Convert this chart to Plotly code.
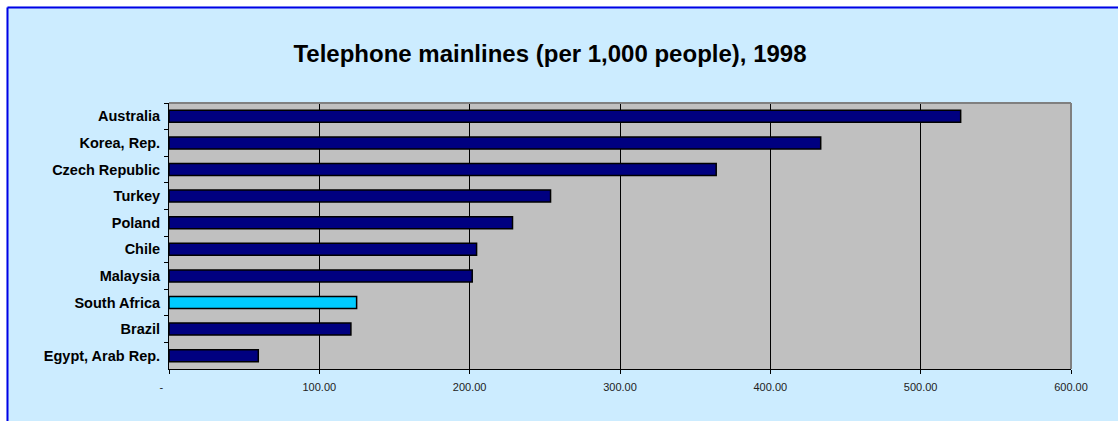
import plotly.graph_objects as go

countries = ["Australia", "Korea, Rep.", "Czech Republic", "Turkey", "Poland",
             "Chile", "Malaysia", "South Africa", "Brazil", "Egypt, Arab Rep."]
values = [526.6, 433.5, 364.0, 253.8, 228.5, 204.6, 201.7, 124.8, 121.0, 59.4]
bar_colors = ["#000080"] * 7 + ["#00CCFF"] + ["#000080"] * 2
tick_vals = [0, 100, 200, 300, 400, 500, 600]
tick_text = ["-" + "\u00a0" * 5, "100.00", "200.00", "300.00", "400.00", "500.00", "600.00"]
title_text = "Telephone mainlines (per 1,000 people), 1998"

W, H = 1118, 421
px0, px1 = 169, 1071
py0, py1 = 103, 369

fig = go.Figure(go.Bar(
    x=values, y=countries, orientation="h",
    marker=dict(color=bar_colors, line=dict(color="black", width=1.5)),
    hoverinfo="x+y",
))

fig.update_layout(
    width=W, height=H, autosize=False,
    margin=dict(l=0, r=0, t=0, b=0, autoexpand=False),
    paper_bgcolor="#CCECFF",
    plot_bgcolor="#C0C0C0",
    bargap=0.55,
    showlegend=False,
    title=dict(text="<b>" + title_text + "</b>", x=550 / W, xanchor="center",
               y=1 - 54 / H, yanchor="middle",
               font=dict(family="Liberation Sans, Arial", size=24, color="black")),
    font=dict(family="Liberation Sans, Arial"),
    xaxis=dict(domain=[px0 / W, px1 / W], range=[0, 600],
               tickvals=tick_vals, ticktext=tick_text,
               ticks="outside", ticklen=4, tickcolor="black", tickwidth=1,
               ticklabelstandoff=4,
               showline=True, linecolor="black", linewidth=1,
               showgrid=True, gridcolor="black", gridwidth=1, zeroline=False,
               tickfont=dict(size=11, color="#222222")),
    yaxis=dict(domain=[1 - py1 / H, 1 - py0 / H], autorange="reversed",
               type="category", tickson="boundaries",
               ticks="outside", ticklen=4, tickcolor="black", tickwidth=1,
               ticklabelstandoff=5,
               showline=True, linecolor="black", linewidth=1,
               showgrid=False, zeroline=False,
               tickfont=dict(size=14.5, color="black", family="Liberation Sans, Arial", weight="bold")),
    shapes=[
        dict(type="rect", xref="paper", yref="paper", x0=0, x1=1, y0=1 - 6.5 / H, y1=1,
             fillcolor="white", line=dict(width=0), layer="above"),
        dict(type="rect", xref="paper", yref="paper", x0=0, x1=6.5 / W, y0=0, y1=1,
             fillcolor="white", line=dict(width=0), layer="above"),
        dict(type="line", xref="paper", yref="paper", x0=7.5 / W, x1=1, y0=1 - 7.5 / H, y1=1 - 7.5 / H,
             line=dict(color="#0000E6", width=2), layer="above"),
        dict(type="line", xref="paper", yref="paper", x0=7.5 / W, x1=7.5 / W, y0=0, y1=1 - 7.5 / H,
             line=dict(color="#0000E6", width=2), layer="above"),
        dict(type="line", xref="paper", yref="paper", x0=px0 / W, x1=px1 / W, y0=1 - py0 / H, y1=1 - py0 / H,
             line=dict(color="#808080", width=2), layer="above"),
        dict(type="line", xref="paper", yref="paper", x0=px1 / W, x1=px1 / W, y0=1 - py1 / H, y1=1 - py0 / H,
             line=dict(color="#808080", width=2), layer="above"),
    ],
)

fig.write_html("out.html", config={"responsive": False})
